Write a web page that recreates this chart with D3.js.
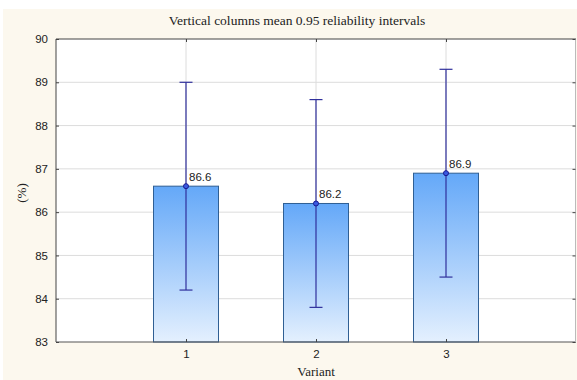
<!DOCTYPE html>
<html><head><meta charset="utf-8">
<script src="https://cdn.jsdelivr.net/npm/d3@7"></script>
<style>body{margin:0;background:#fff;}svg{display:block;}</style>
</head><body>
<script>
const categories = ["1", "2", "3"];
const means = [86.6, 86.2, 86.9];
const lower = [84.2, 83.8, 84.5];
const upper = [89.0, 88.6, 89.3];
const yTicks = [83, 84, 85, 86, 87, 88, 89, 90];
const title = "Vertical columns mean 0.95 reliability intervals";
const xLabel = "Variant";
const yLabel = "(%)";

const W = 577, H = 380;
const m = {left: 56, right: 1, top: 39, bottom: 38};
const svg = d3.select("body").append("svg").attr("width", W).attr("height", H);

svg.append("rect").attr("x", 3).attr("y", 9).attr("width", W - 3).attr("height", H - 9).attr("fill", "#fcf8ee");

const x = d3.scaleLinear().domain([0, categories.length + 1]).range([m.left, W - m.right]);
const y = d3.scaleLinear().domain([83, 90]).range([H - m.bottom, m.top]);
const bw = (x(1) - x(0)) / 2;

const defs = svg.append("defs");
const g = defs.append("linearGradient").attr("id", "bg").attr("x1", 0).attr("y1", 0).attr("x2", 0).attr("y2", 1);
g.append("stop").attr("offset", "0%").attr("stop-color", "#64a8f8");
g.append("stop").attr("offset", "100%").attr("stop-color", "#e4f0fe");

svg.append("rect").attr("x", x(0)).attr("y", y(90)).attr("width", x(4) - x(0)).attr("height", y(83) - y(90)).attr("fill", "#ffffff");

// grid
svg.append("g").selectAll("line").data(yTicks.slice(1, -1)).join("line")
  .attr("x1", x(0)).attr("x2", x(4)).attr("y1", d => y(d)).attr("y2", d => y(d))
  .attr("stroke", "#dcdcdc").attr("stroke-width", 1);
svg.append("g").selectAll("line").data(categories).join("line")
  .attr("x1", (d, i) => x(i + 1)).attr("x2", (d, i) => x(i + 1)).attr("y1", y(90)).attr("y2", y(83))
  .attr("stroke", "#dcdcdc").attr("stroke-width", 1);

// bars
svg.append("g").selectAll("rect").data(means).join("rect")
  .attr("x", (d, i) => x(i + 1) - bw / 2).attr("width", bw)
  .attr("y", d => y(d)).attr("height", d => y(83) - y(d))
  .attr("fill", "url(#bg)").attr("stroke", "#2f5f94").attr("stroke-width", 1);

// error bars
const eb = svg.append("g").attr("stroke", "#30309c").attr("stroke-width", 1.2);
categories.forEach((c, i) => {
  const cx = x(i + 1);
  eb.append("line").attr("x1", cx).attr("x2", cx).attr("y1", y(upper[i])).attr("y2", y(lower[i]));
  eb.append("line").attr("x1", cx - 6.5).attr("x2", cx + 6.5).attr("y1", y(upper[i])).attr("y2", y(upper[i]));
  eb.append("line").attr("x1", cx - 6.5).attr("x2", cx + 6.5).attr("y1", y(lower[i])).attr("y2", y(lower[i]));
});
svg.append("g").selectAll("circle").data(means).join("circle")
  .attr("cx", (d, i) => x(i + 1)).attr("cy", d => y(d)).attr("r", 2.5)
  .attr("fill", "#3a5ae0").attr("stroke", "#1a1a90").attr("stroke-width", 1);
svg.append("g").selectAll("text").data(means).join("text")
  .attr("x", (d, i) => x(i + 1) + 3).attr("y", d => y(d) - 5)
  .attr("font-family", "Liberation Sans, Arial, sans-serif").attr("font-size", 11.5).attr("fill", "#222")
  .text(d => d.toFixed(1));

// frame
const fr = svg.append("g").attr("fill", "none");
fr.append("line").attr("x1", x(0)).attr("x2", x(4)).attr("y1", y(90)).attr("y2", y(90)).attr("stroke", "#444");
fr.append("line").attr("x1", x(0)).attr("x2", x(0)).attr("y1", y(90)).attr("y2", y(83)).attr("stroke", "#444");
fr.append("line").attr("x1", x(0)).attr("x2", x(4)).attr("y1", y(83)).attr("y2", y(83)).attr("stroke", "#555").attr("stroke-width", 1.2);
fr.append("line").attr("x1", x(4) - 0.5).attr("x2", x(4) - 0.5).attr("y1", y(90)).attr("y2", y(83)).attr("stroke", "#bbb");

// axes
svg.append("g").attr("transform", `translate(${x(0)},0)`)
  .call(d3.axisLeft(y).tickValues(yTicks).tickSize(-3).tickPadding(8).tickFormat(d3.format("d")));
svg.append("g").attr("transform", `translate(0,${y(83)})`)
  .call(d3.axisBottom(x).tickValues([1, 2, 3]).tickSize(-3).tickPadding(8).tickFormat((d) => categories[d - 1]));
svg.append("g").attr("transform", `translate(0,${y(90)})`)
  .call(d3.axisTop(x).tickValues([1, 2, 3]).tickSize(-3).tickFormat(""));
svg.append("g").attr("transform", `translate(${x(4) - 0.5},0)`)
  .call(d3.axisRight(y).tickValues(yTicks).tickSize(-3).tickFormat(""));
svg.selectAll(".domain").remove();
svg.selectAll(".tick line").attr("stroke", "#444");
svg.selectAll(".tick text").attr("font-family", "Liberation Sans, Arial, sans-serif").attr("font-size", 11.5).attr("fill", "#222");

svg.append("text").attr("x", 297).attr("y", 25).attr("text-anchor", "middle")
  .attr("font-family", "Liberation Serif, Times New Roman, serif").attr("font-size", 13.5).attr("fill", "#222").text(title);
svg.append("text").attr("x", x(2)).attr("y", 376).attr("text-anchor", "middle")
  .attr("font-family", "Liberation Serif, Times New Roman, serif").attr("font-size", 13).attr("fill", "#222").text(xLabel);
svg.append("text").attr("transform", "translate(26,193) rotate(-90)").attr("text-anchor", "middle")
  .attr("font-family", "Liberation Serif, Times New Roman, serif").attr("font-size", 13).attr("fill", "#222").text(yLabel);
</script>
</body></html>
